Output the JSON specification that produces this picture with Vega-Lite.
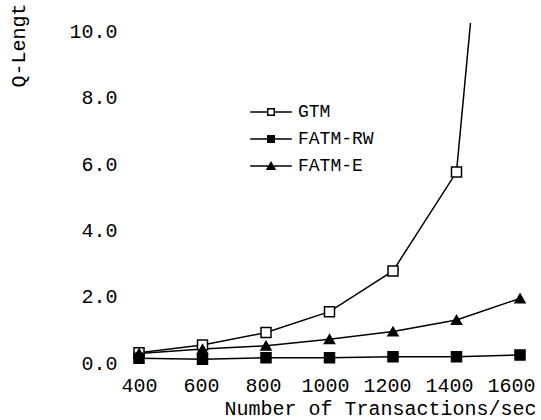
{
  "$schema": "https://vega.github.io/schema/vega-lite/v6.json",
  "autosize": "none",
  "width": 381,
  "height": 340,
  "padding": {"left": 139, "top": 23, "right": 21, "bottom": 57},
  "background": "white",
  "config": {
    "view": {"stroke": null},
    "font": "Liberation Mono",
    "axis": {"domain": false, "ticks": false, "grid": false, "labelFont": "Liberation Mono", "labelFontSize": 20, "labelColor": "black", "titleFont": "Liberation Mono", "titleFontSize": 20, "titleFontWeight": "normal", "titleColor": "black"},
    "legend": {
      "orient": "none", "legendX": 119, "legendY": 76, "title": null, "padding": 0,
      "symbolSize": 676, "symbolStrokeWidth": 0, "symbolFillColor": "black",
      "labelFont": "Liberation Mono", "labelFontSize": 18, "labelColor": "black", "labelOffset": 14,
      "rowPadding": 5
    }
  },
  "data": {
    "values": [
      {"tps": 400, "series": "GTM", "q": 0.31},
      {"tps": 600, "series": "GTM", "q": 0.54},
      {"tps": 800, "series": "GTM", "q": 0.92},
      {"tps": 1000, "series": "GTM", "q": 1.55},
      {"tps": 1200, "series": "GTM", "q": 2.78},
      {"tps": 1400, "series": "GTM", "q": 5.76},
      {"tps": 1600, "series": "GTM", "q": 26.2},
      {"tps": 400, "series": "FATM-RW", "q": 0.14},
      {"tps": 600, "series": "FATM-RW", "q": 0.11},
      {"tps": 800, "series": "FATM-RW", "q": 0.16},
      {"tps": 1000, "series": "FATM-RW", "q": 0.16},
      {"tps": 1200, "series": "FATM-RW", "q": 0.19},
      {"tps": 1400, "series": "FATM-RW", "q": 0.19},
      {"tps": 1600, "series": "FATM-RW", "q": 0.24},
      {"tps": 400, "series": "FATM-E", "q": 0.29},
      {"tps": 600, "series": "FATM-E", "q": 0.42},
      {"tps": 800, "series": "FATM-E", "q": 0.52},
      {"tps": 1000, "series": "FATM-E", "q": 0.72},
      {"tps": 1200, "series": "FATM-E", "q": 0.95},
      {"tps": 1400, "series": "FATM-E", "q": 1.30},
      {"tps": 1600, "series": "FATM-E", "q": 1.95}
    ]
  },
  "encoding": {
    "x": {"field": "tps", "type": "quantitative", "scale": {"domain": [400, 1600], "nice": false, "zero": false},
      "axis": {"values": [400, 600, 800, 1000, 1200, 1400, 1600], "format": "d", "labelOverlap": false, "labelFlush": false, "labelPadding": 12, "labelOffset": {"expr": "(400 - datum.value) * 0.0075"}, "title": "Number of Transactions/sec", "titleAnchor": "end", "titleAlign": "right", "titleBaseline": "middle", "titleX": 397, "titleY": 45}},
    "y": {"field": "q", "type": "quantitative", "scale": {"domain": [0, 10.26], "nice": false},
      "axis": {"values": [0, 2, 4, 6, 8, 10], "format": ".1f", "labelOverlap": false, "labelFlush": false, "labelPadding": 22, "title": "Q-Lengt", "titleAngle": -90, "titleAlign": "right", "titleBaseline": "middle", "titleX": -121, "titleY": -20}}
  },
  "layer": [
    {
      "mark": {"type": "line", "clip": true, "color": "black", "strokeWidth": 1.5},
      "encoding": {"detail": {"field": "series"}}
    },
    {
      "transform": [{"filter": "datum.q <= 10.26"}],
      "mark": {"type": "point", "filled": true, "size": 100, "stroke": "black", "strokeWidth": 1.5, "opacity": 1},
      "encoding": {
        "shape": {"field": "series", "type": "nominal", "scale": {"domain": ["GTM", "FATM-RW", "FATM-E"], "range": ["square", "square", "triangle-up"]}, "legend": null},
        "fill": {"field": "series", "type": "nominal", "scale": {"domain": ["GTM", "FATM-RW", "FATM-E"], "range": ["white", "black", "black"]}, "legend": null}
      }
    },
    {
      "transform": [{"filter": "false"}],
      "mark": {"type": "point", "filled": true, "color": "black", "strokeWidth": 0, "opacity": 1},
      "encoding": {
        "shape": {"field": "series", "type": "nominal", "scale": {"domain": ["GTM", "FATM-RW", "FATM-E"], "range": [
          "M-1.6,-0.058L-0.31,-0.058L-0.31,0.058L-1.6,0.058ZM0.31,-0.058L1.6,-0.058L1.6,0.058L0.31,0.058ZM-0.31,-0.31L0.31,-0.31L0.31,0.31L-0.31,0.31ZM-0.195,-0.195L-0.195,0.195L0.195,0.195L0.195,-0.195Z",
          "M-1.6,-0.058L1.6,-0.058L1.6,0.058L-1.6,0.058ZM-0.31,-0.31L0.31,-0.31L0.31,0.31L-0.31,0.31Z",
          "M-1.6,-0.058L1.6,-0.058L1.6,0.058L-1.6,0.058ZM0,-0.38L0.4,0.3L-0.4,0.3Z"
        ]}}
      }
    }
  ],
  "resolve": {"scale": {"shape": "independent", "fill": "independent"}}
}
